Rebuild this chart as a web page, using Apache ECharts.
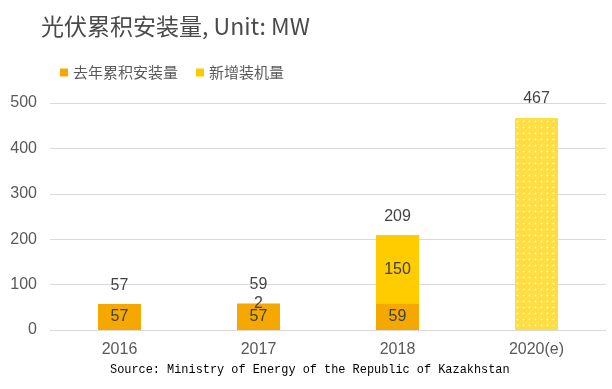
<!DOCTYPE html>
<html><head><meta charset="utf-8">
<script src="https://cdn.jsdelivr.net/npm/echarts@6/dist/echarts.min.js"></script>
<style>html,body{margin:0;padding:0;background:#fff}#c{width:612px;height:389px}</style>
</head><body><div id="c"></div>
<script>
const categories = ['2016', '2017', '2018', '2020(e)'];
const cumulative = [57, 57, 59, null];
const added = [null, 2, 150, 467];
const totals = [57, 59, 209, 467];
const yTicks = [0, 100, 200, 300, 400, 500];

const chart = echarts.init(document.getElementById('c'));
const gray = '#595959';
chart.setOption({
  animation: false,
  backgroundColor: '#fff',
  title: {
    text: '光伏累积安装量, Unit: MW',
    left: 36, top: 10,
    textStyle: { fontSize: 23, fontWeight: 'normal', color: '#4a4a4a', fontFamily: 'Noto Sans CJK SC' }
  },
  legend: {
    left: 55, top: 60, itemWidth: 8, itemHeight: 8, itemGap: 18,
    icon: 'rect',
    textStyle: { fontSize: 15, color: gray, fontFamily: 'Noto Sans CJK SC' },
    data: ['去年累积安装量', '新增装机量']
  },
  grid: { left: 50, right: 6, top: 103, bottom: 59 },
  xAxis: {
    type: 'category', data: categories,
    axisLine: { lineStyle: { color: '#d9d9d9' } },
    axisTick: { show: false },
    axisLabel: { fontSize: 16, color: gray, margin: 12, fontFamily: 'Liberation Sans' }
  },
  yAxis: {
    type: 'value', min: yTicks[0], max: yTicks[yTicks.length - 1], interval: 100,
    axisLine: { show: false }, axisTick: { show: false },
    splitLine: { lineStyle: { color: '#d9d9d9' } },
    axisLabel: { fontSize: 16, color: gray, margin: 13, fontFamily: 'Liberation Sans' }
  },
  graphic: [{
    type: 'text', left: 110, top: 364,
    style: { text: 'Source: Ministry of Energy of the Republic of Kazakhstan', font: '11.9px "Liberation Mono"', fill: '#000' }
  }],
  series: [
    {
      name: '去年累积安装量', type: 'bar', stack: 'a', barWidth: 43,
      itemStyle: { color: '#F4A800' },
      label: { show: true, position: 'inside', fontSize: 16, color: '#404040', fontFamily: 'Liberation Sans' },
      data: cumulative
    },
    {
      name: '新增装机量', type: 'bar', stack: 'a', barWidth: 43,
      itemStyle: { color: '#FFCC00' },
      label: { show: true, position: 'inside', fontSize: 16, color: '#404040', fontFamily: 'Liberation Sans' },
      data: added.map((v, i) => i === 3 ? {
        value: v,
        label: { show: false },
        itemStyle: {
          color: '#FFDD44',
          decal: { symbol: 'circle', symbolSize: 0.6, color: 'rgba(255,255,255,0.85)', dashArrayX: 3, dashArrayY: 3, rotation: 0 }
        }
      } : v)
    },
    {
      name: 'total', type: 'scatter', symbolSize: 0, silent: true,
      label: { show: true, position: 'top', distance: 11, fontSize: 16, color: '#111', fontFamily: 'Liberation Sans',
        formatter: p => p.value },
      data: totals
    }
  ]
});
</script></body></html>
